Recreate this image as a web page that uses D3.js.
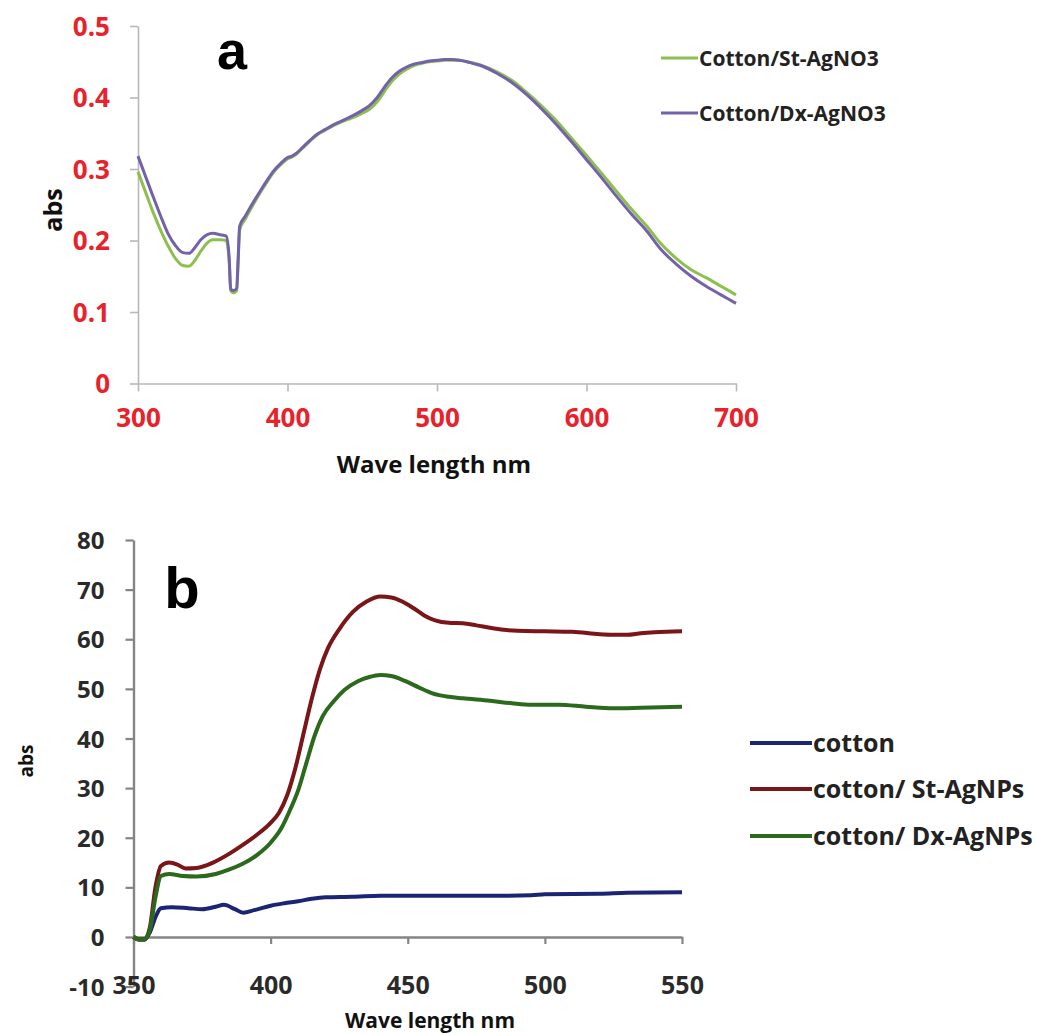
<!DOCTYPE html>
<html>
<head>
<meta charset="utf-8">
<script src="https://cdn.jsdelivr.net/npm/d3@7"></script>
<style>
  html, body { margin: 0; padding: 0; background: #fff; }
  svg { display: block; }
  text { font-family: "Open Sans", "Liberation Sans", sans-serif; font-weight: 700; }
</style>
</head>
<body>
<svg id="chart" width="1038" height="1033"></svg>
<script>
// ---------- Panel a: UV-vis spectra of AgNO3-treated cotton ----------
const aWave = [300,305,310,315,320,325,330,334,338,342,346,350,355,359,361,362,364,366,367,368,372,377,382,386,391,396,400,403,406,410,415,420,425,430,435,440,445,450,455,460,465,470,475,480,485,490,495,500,505,510,515,520,525,530,540,550,560,570,580,590,600,610,620,630,640,650,660,670,680,690,700];
const aStAgNO3 = [0.296,0.268,0.240,0.215,0.193,0.175,0.165,0.164,0.172,0.185,0.196,0.201,0.201,0.200,0.170,0.130,0.127,0.130,0.170,0.215,0.231,0.250,0.268,0.281,0.296,0.307,0.314,0.317,0.321,0.329,0.339,0.348,0.354,0.360,0.365,0.369,0.373,0.378,0.384,0.394,0.409,0.423,0.433,0.440,0.445,0.448,0.450,0.451,0.452,0.452,0.452,0.450,0.448,0.445,0.436,0.424,0.407,0.388,0.367,0.343,0.319,0.294,0.269,0.244,0.221,0.195,0.175,0.159,0.148,0.136,0.124];
const aDxAgNO3 = [0.318,0.290,0.262,0.235,0.210,0.193,0.183,0.182,0.190,0.201,0.208,0.210,0.208,0.206,0.175,0.132,0.130,0.133,0.175,0.220,0.235,0.253,0.270,0.283,0.298,0.309,0.316,0.318,0.322,0.330,0.340,0.349,0.355,0.361,0.366,0.371,0.376,0.382,0.389,0.400,0.415,0.428,0.437,0.443,0.447,0.449,0.451,0.452,0.453,0.453,0.452,0.450,0.447,0.444,0.434,0.421,0.404,0.384,0.362,0.338,0.313,0.288,0.262,0.237,0.214,0.187,0.167,0.150,0.136,0.124,0.112];
const aSeriesNames = ["Cotton/St-AgNO3", "Cotton/Dx-AgNO3"];
const aXTicks = [300, 400, 500, 600, 700];
const aYTicks = [0, 0.1, 0.2, 0.3, 0.4, 0.5];
const aYTickLabels = ["0", "0.1", "0.2", "0.3", "0.4", "0.5"];

// ---------- Panel b: spectra of cotton and AgNP-loaded cotton ----------
const bRedWave = [350,352,354,356,358,360,363,366,369,373,379,385,390,395,400,403,406,409,412,415,418,421,425,430,435,440,444,448,452,456,460,465,470,475,480,485,490,500,510,520,525,530,535,540,550];
const bStAgNPs = [0,-0.5,-0.5,2,10,14.3,15,14.6,13.8,13.9,15,16.8,18.6,20.6,23,25,28.5,34,41,48,54,58.3,62,65.5,67.6,68.6,68.4,67.6,66.3,64.8,63.8,63.3,63.2,62.8,62.3,61.9,61.7,61.6,61.5,61.0,60.9,60.9,61.2,61.4,61.6];
const bGreenWave = [350,352,354,356,358,360,363,368,373,380,385,390,395,400,404,407,410,413,416,419,423,427,432,436,440,444,449,454,459,465,470,480,488,495,505,515,525,535,550];
const bDxAgNPs = [0,-0.5,-0.5,1.5,8,12.3,12.7,12.3,12.2,12.7,13.6,14.8,16.5,19,22,25.5,29.5,35,40.5,44.5,47.5,49.8,51.6,52.4,52.8,52.6,51.6,50.3,49.1,48.4,48.1,47.6,47.1,46.8,46.8,46.4,46.1,46.2,46.4];
const bBlueWave = [350,352,354,356,358,360,364,370,375,380,383,387,390,394,400,405,410,415,420,430,440,460,480,495,500,520,530,550];
const bCotton = [0,-0.5,-0.5,1,4,5.8,6,5.8,5.6,6.1,6.5,5.6,4.9,5.4,6.3,6.8,7.2,7.7,8.0,8.1,8.3,8.3,8.3,8.4,8.6,8.7,8.9,9.0];
const bSeriesNames = ["cotton", "cotton/ St-AgNPs", "cotton/ Dx-AgNPs"];
const bXTicks = [350, 400, 450, 500, 550];
const bYTicks = [-10, 0, 10, 20, 30, 40, 50, 60, 70, 80];

const svg = d3.select("#chart");
svg.append("rect").attr("width", 1038).attr("height", 1033).attr("fill", "#fff");

// ===== Panel a =====
const ax = d3.scaleLinear().domain([300, 700]).range([138, 736]);
const ay = d3.scaleLinear().domain([0, 0.5]).range([383.5, 26]);
const aRed = "#e8222b";
const aAxisColor = "#b8b8b8";

const gaY = svg.append("g").attr("transform", `translate(${ax(300)},0)`)
  .call(d3.axisLeft(ay).tickValues(aYTicks).tickSize(8).tickSizeOuter(0)
    .tickFormat((d, i) => aYTickLabels[i]));
const gaX = svg.append("g").attr("transform", `translate(0,${ay(0)})`)
  .call(d3.axisBottom(ax).tickValues(aXTicks).tickSize(8).tickSizeOuter(0).tickFormat(d => String(d)));
[gaY, gaX].forEach(g => {
  g.selectAll("path.domain").attr("stroke", aAxisColor).attr("stroke-width", 1.6);
  g.selectAll(".tick line").attr("stroke", aAxisColor).attr("stroke-width", 1.6);
  g.selectAll(".tick text").attr("fill", aRed).style("font-size", "26px")
    .style("font-family", "'Open Sans', sans-serif").style("font-weight", 700);
});
gaY.selectAll(".tick text").attr("x", -28).attr("dy", "0.36em");
gaX.selectAll(".tick text").attr("y", 25).attr("dy", "0.71em");

const aLine = d3.line().x(d => ax(d[0])).y(d => ay(d[1])).curve(d3.curveMonotoneX);
const aColors = ["#8dbf4f", "#7361ab"];
[aStAgNO3, aDxAgNO3].forEach((vals, k) => {
  svg.append("path")
    .datum(aWave.map((w, i) => [w, vals[i]]))
    .attr("fill", "none").attr("stroke", aColors[k]).attr("stroke-width", 3)
    .attr("stroke-linejoin", "round").attr("d", aLine);
});

svg.append("text").attr("x", 232).attr("y", 69).attr("text-anchor", "middle")
  .style("font-size", "54px").style("font-family", "'Liberation Sans', Arial, sans-serif").text("a");
svg.append("text").attr("transform", "translate(62,210) rotate(-90)").attr("text-anchor", "middle")
  .style("font-size", "25px").attr("fill", "#111").text("abs");
svg.append("text").attr("x", 434).attr("y", 473).attr("text-anchor", "middle")
  .style("font-size", "24px").attr("fill", "#111").text("Wave length nm");

const aLegY = [58, 113];
aSeriesNames.forEach((name, k) => {
  svg.append("line").attr("x1", 661).attr("x2", 698).attr("y1", aLegY[k]).attr("y2", aLegY[k])
    .attr("stroke", aColors[k]).attr("stroke-width", 3);
  svg.append("text").attr("x", 699).attr("y", aLegY[k]).attr("dy", "0.36em")
    .style("font-size", "21px").attr("fill", "#222").text(name);
});

// ===== Panel b =====
const bx = d3.scaleLinear().domain([350, 550]).range([133.5, 682]);
const by = d3.scaleLinear().domain([-10, 80]).range([986.6, 540]);
const bAxisColor = "#858585";

const gbY = svg.append("g").attr("transform", `translate(${bx(350)},0)`)
  .call(d3.axisLeft(by).tickValues(bYTicks).tickSize(8).tickSizeOuter(0).tickFormat(d => String(d)));
const gbX = svg.append("g").attr("transform", `translate(0,${by(0)})`)
  .call(d3.axisBottom(bx).tickValues(bXTicks).tickSize(7).tickSizeOuter(0).tickFormat(d => String(d)));
[gbY, gbX].forEach(g => {
  g.selectAll("path.domain").attr("stroke", bAxisColor).attr("stroke-width", 2.4);
  g.selectAll(".tick line").attr("stroke", bAxisColor).attr("stroke-width", 2.2);
  g.selectAll(".tick text").attr("fill", "#2a2a2a")
    .style("font-family", "'Open Sans', sans-serif").style("font-weight", 700);
});
gbY.selectAll(".tick text").style("font-size", "24px").attr("x", -29).attr("dy", "0.36em");
gbX.selectAll(".tick text").style("font-size", "25px").attr("y", 39).attr("dy", "0.71em");

const bLine = d3.line().x(d => bx(d[0])).y(d => by(d[1])).curve(d3.curveMonotoneX);
const bColors = ["#1c2474", "#7a1518", "#2b6a1d"];
const bSeries = [[bBlueWave, bCotton], [bRedWave, bStAgNPs], [bGreenWave, bDxAgNPs]];
bSeries.forEach(([wv, vals], k) => {
  svg.append("path")
    .datum(wv.map((w, i) => [w, vals[i]]))
    .attr("fill", "none").attr("stroke", bColors[k]).attr("stroke-width", 4)
    .attr("stroke-linejoin", "round").attr("d", bLine);
});

svg.append("text").attr("x", 182).attr("y", 608).attr("text-anchor", "middle")
  .style("font-size", "58px").style("font-family", "'Liberation Sans', Arial, sans-serif").text("b");
svg.append("text").attr("transform", "translate(33,761) rotate(-90)").attr("text-anchor", "middle")
  .style("font-size", "19px").attr("fill", "#111").text("abs");
svg.append("text").attr("x", 430).attr("y", 1028).attr("text-anchor", "middle")
  .style("font-size", "21px").attr("fill", "#111").text("Wave length nm");

const bLegY = [743, 789, 836];
bSeriesNames.forEach((name, k) => {
  svg.append("line").attr("x1", 750).attr("x2", 812).attr("y1", bLegY[k]).attr("y2", bLegY[k])
    .attr("stroke", bColors[k]).attr("stroke-width", 4);
  svg.append("text").attr("x", 813).attr("y", bLegY[k]).attr("dy", "0.36em")
    .style("font-size", "25px").attr("fill", "#222").text(name);
});
</script>
</body>
</html>
